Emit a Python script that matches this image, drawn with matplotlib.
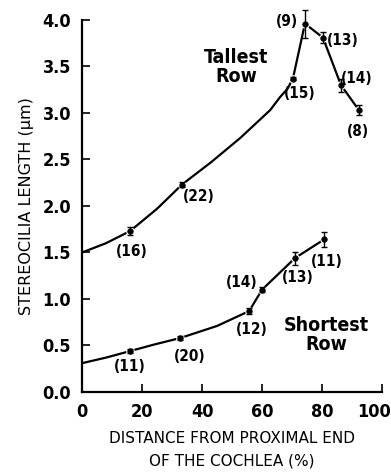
import matplotlib
matplotlib.use("Agg")
import matplotlib.pyplot as plt
import matplotlib.transforms as mtransforms

# Tallest row data
tall_x = [16, 33.3, 70.3, 74.3, 80.3, 86.3, 92.3]
tall_y = [1.73, 2.23, 3.37, 3.96, 3.81, 3.30, 3.03]
tall_err = [0.04, 0.03, 0.02, 0.15, 0.06, 0.07, 0.05]
tall_n = ["(16)", "(22)", "(15)", "(9)", "(13)", "(14)", "(8)"]
tall_lab_x = [16.5, 39, 72.7, 68.3, 87, 91.7, 92]
tall_lab_y = [1.51, 2.10, 3.21, 3.98, 3.78, 3.37, 2.80]
# Drawn curve through the tallest row
tall_curve_x = [0, 8, 16, 25, 33.3, 43, 52.7, 62.7, 66, 68.5, 70.3, 74.3, 80.3, 86.3, 92.3]
tall_curve_y = [1.50, 1.60, 1.73, 1.97, 2.23, 2.47, 2.73, 3.03, 3.17, 3.26, 3.37, 3.96, 3.81, 3.30, 3.03]

# Shortest row data
short_x = [16, 32.7, 55.7, 60, 71, 80.7]
short_y = [0.44, 0.58, 0.87, 1.10, 1.44, 1.64]
short_err = [0.02, 0.02, 0.03, 0.03, 0.07, 0.08]
short_n = ["(11)", "(20)", "(12)", "(14)", "(13)", "(11)"]
short_lab_x = [16, 36, 56.7, 53.3, 72, 81.7]
short_lab_y = [0.27, 0.38, 0.67, 1.18, 1.23, 1.40]
short_curve_x = [0, 8, 16, 24, 32.7, 45, 55.7, 60, 71, 80.7]
short_curve_y = [0.31, 0.37, 0.44, 0.51, 0.58, 0.71, 0.87, 1.10, 1.44, 1.64]

xticks = [0, 20, 40, 60, 80, 100]
yticks = [0.0, 0.5, 1.0, 1.5, 2.0, 2.5, 3.0, 3.5, 4.0]

plt.rcParams['font.family'] = ['DejaVu Sans']
plt.rcParams['font.stretch'] = 'condensed'

fig = plt.figure(figsize=(3.91, 4.74), dpi=100)
ax = fig.add_axes([0.21, 0.173, 0.767, 0.785])

for cx, cy in [(tall_curve_x, tall_curve_y), (short_curve_x, short_curve_y)]:
    ax.plot(cx, cy, color='black', lw=1.6, solid_capstyle='butt', zorder=2, clip_on=False)

for x, y, e in [(tall_x, tall_y, tall_err), (short_x, short_y, short_err)]:
    ax.plot(x, y, 'o', ms=4, mfc='black', mec='white', mew=2.2, zorder=3, clip_on=False)
    ax.plot(x, y, 'o', ms=4, mfc='black', mec='black', mew=0.5, zorder=4, clip_on=False)
    ax.errorbar(x, y, yerr=e, fmt='none', ecolor='black', elinewidth=1.0,
                capsize=2.5, capthick=1.0, zorder=5, clip_on=False)

for lx, ly, t in zip(tall_lab_x, tall_lab_y, tall_n):
    ax.text(lx, ly, t, ha='center', va='center', fontsize=11, fontweight='bold')
for lx, ly, t in zip(short_lab_x, short_lab_y, short_n):
    ax.text(lx, ly, t, ha='center', va='center', fontsize=11, fontweight='bold')

ax.text(51.5, 3.49, "Tallest\nRow", ha='center', va='center', fontsize=14,
        fontweight='bold', linespacing=1.0)
ax.text(81.5, 0.61, "Shortest\nRow", ha='center', va='center', fontsize=14,
        fontweight='bold', linespacing=1.0)

ax.set_xlim(0, 100)
ax.set_ylim(0, 4.0)
ax.set_xticks(xticks)
ax.set_yticks(yticks)
ax.set_xticklabels([str(v) for v in xticks], fontsize=13, fontweight='bold')
ax.set_yticklabels([f"{v:.1f}" for v in yticks], fontsize=13, fontweight='bold')
ax.tick_params(direction='in', length=6, width=1.2, pad=8)
ax.spines['top'].set_visible(False)
ax.spines['right'].set_visible(False)
ax.spines['left'].set_linewidth(1.6)
ax.spines['bottom'].set_linewidth(1.6)

# shift the "100" label a little left so it stays in the picture
last = ax.get_xticklabels()[-1]
last.set_transform(last.get_transform() + mtransforms.ScaledTranslation(-6/72, 0, fig.dpi_scale_trans))

ax.set_xlabel("DISTANCE FROM PROXIMAL END\nOF THE COCHLEA (%)", fontsize=11,
              fontstretch='normal', labelpad=7, linespacing=1.65)
ax.set_ylabel("STEREOCILIA LENGTH (\u03bcm)", fontsize=11.5, fontstretch='normal',
              labelpad=6)

fig.savefig("out.png", dpi=100)
